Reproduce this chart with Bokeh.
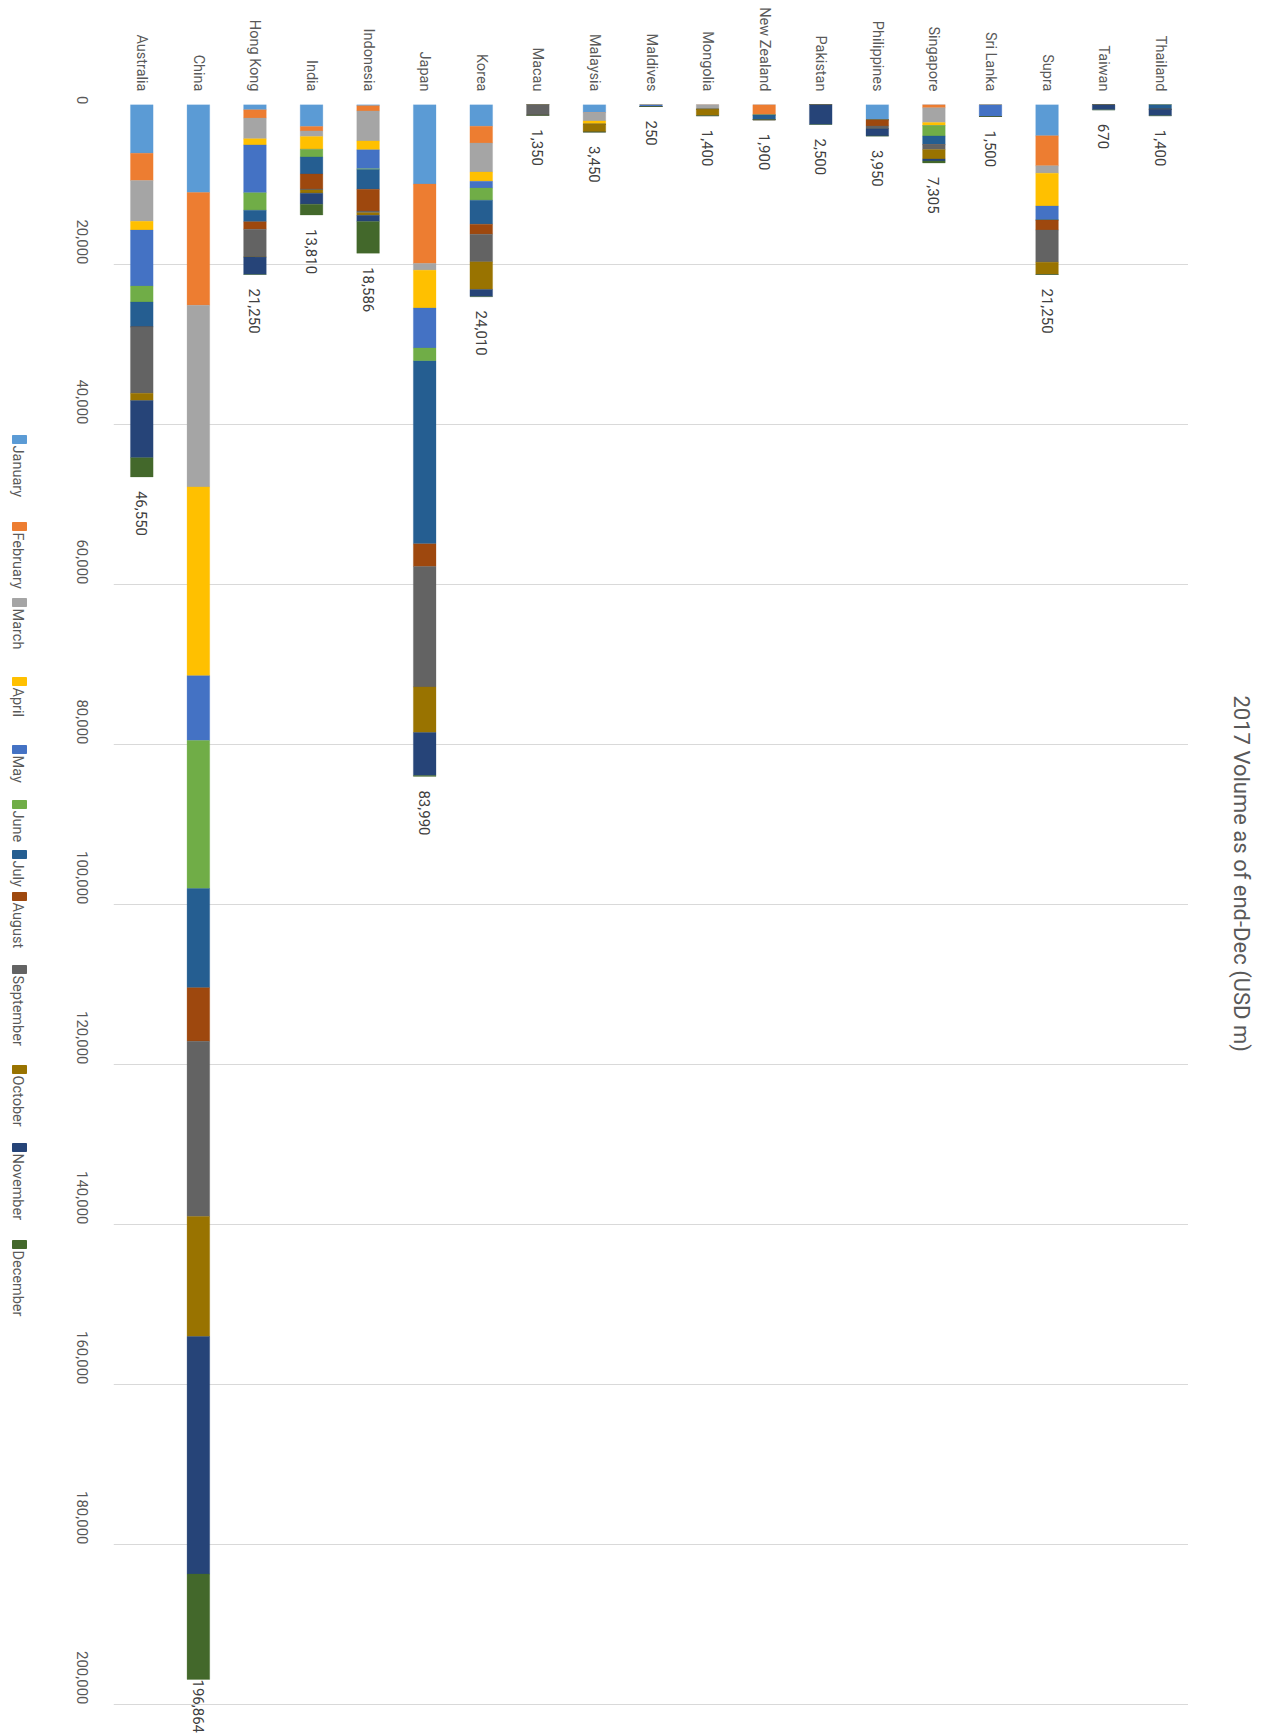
import math

from bokeh.core.properties import value
from bokeh.embed import file_html
from bokeh.layouts import row
from bokeh.models import (ColumnDataSource, FixedTicker, NumeralTickFormatter,
                          Range1d)
from bokeh.plotting import figure
from bokeh.resources import INLINE

# ---------------------------------------------------------------- data
countries = ["Australia", "China", "Hong Kong", "India", "Indonesia", "Japan",
             "Korea", "Macau", "Malaysia", "Maldives", "Mongolia",
             "New Zealand", "Pakistan", "Philippines", "Singapore",
             "Sri Lanka", "Supra", "Taiwan", "Thailand"]

months = ["January", "February", "March", "April", "May", "June", "July",
          "August", "September", "October", "November", "December"]

# monthly volume, USD m, one value per country (same order as countries)
january   = [6100, 11000,  670, 2750,  150,  9950, 2720,    0, 1000,   0,   0,    0,    0, 1900,    0,    0, 3920,   0,   0]
february  = [3400, 14100, 1030,  550,  650,  9910, 2100,    0,    0,   0,   0, 1300,    0,    0,  420,    0, 3750,   0,   0]
march     = [5100, 22700, 2590,  710, 3750,   850, 3620,    0, 1050,   0, 600,    0,    0,    0, 1845,    0,  920,   0,   0]
april     = [1100, 23600,  760, 1600, 1120,  4730, 1160,    0,  430,   0,   0,    0,    0,    0,  375,    0, 4100,   0,   0]
may       = [7000,  8100, 5980,    0, 2370,  5000,  850,    0,    0, 250,   0,    0,    0,    0,    0, 1500, 1750,   0,   0]
june      = [2000, 18500, 2190,  940,  100,  1610, 1520,    0,    0,   0,   0,    0,    0,    0, 1290,    0,    0,   0,   0]
july      = [3100, 12400, 1430, 2130, 2460, 22870, 2990,    0,    0,   0,   0,  600,    0,    0, 1080,    0,    0,   0, 600]
august    = [   0,  6700,  940, 1870, 2720,  2830, 1250,    0,    0,   0,   0,    0,    0,  780,    0,    0, 1250,   0,   0]
september = [8300, 21900, 3480,  130,  220, 15050, 3460, 1350,    0,   0,   0,    0,    0,  330,  625,    0, 4020,   0,   0]
october   = [ 900, 15000,    0,  400,  310,  5700, 3450,    0,  970,   0, 800,    0,    0,    0, 1170,    0, 1540,   0,   0]
november  = [7150, 29700, 2180, 1380,  760,  5380,  890,    0,    0,   0,   0,    0, 2500,  940,  250,    0,    0, 670, 800]
december  = [2400, 13164,    0, 1350, 3976,   110,    0,    0,    0,   0,   0,    0,    0,    0,  250,    0,    0,   0,   0]

series = [january, february, march, april, may, june, july, august,
          september, october, november, december]

value_ticks = list(range(0, 200001, 20000))
value_title = "2017 Volume as of end-Dec (USD m)"

# ---------------------------------------------------------------- style
FONT = "Roboto"
GREY_TEXT = "#595959"
colors = ["#5B9BD5", "#ED7D31", "#A5A5A5", "#FFC000", "#4472C4", "#70AD47",
          "#255E91", "#9E480E", "#636363", "#997300", "#264478", "#43682B"]

W, H = 1275, 1734
LEG_W = 40                   # legend strip on the left
TITLE_W = 87                 # value-title strip on the right
PX_PER_UNIT = 0.008          # vertical pixels per USD m
TOP = 104
LABEL_GAP = 14               # px between a stack's end and its total label
LABEL_LEN = 55               # room kept for the longest total label, px

totals = [sum(s[i] for s in series) for i in range(len(countries))]

# keep every total label inside the canvas: shrink the gap near the bottom
label_offset = [max(0, min(LABEL_GAP, H - (TOP + t * PX_PER_UNIT) - LABEL_LEN))
                for t in totals]

data = {"country": countries, "total": totals,
        "label": [f"{t:,}" for t in totals], "label_offset": label_offset}
for m, s in zip(months, series):
    data[m] = s
source = ColumnDataSource(data)


def strip(width):
    """A blank side figure; its frame lines up with the chart frame
    (canvas rows TOP..H), so its y data units equal canvas pixels."""
    f = figure(width=width, height=H, x_range=Range1d(0, width),
               y_range=Range1d(H, TOP), x_axis_type=None, y_axis_type=None,
               output_backend="svg", toolbar_location=None,
               min_border=0, min_border_left=0, min_border_right=0,
               min_border_top=TOP, min_border_bottom=0)
    f.outline_line_color = None
    f.grid.visible = False
    return f


# ---------------------------------------------------------------- main chart
y_max = (H - TOP) / PX_PER_UNIT
p = figure(width=W - LEG_W - TITLE_W, height=H, x_range=countries,
           y_range=Range1d(y_max, 0), x_axis_location="above",
           output_backend="svg", toolbar_location=None,
           min_border_left=113 - LEG_W, min_border_right=0,
           min_border_top=TOP, min_border_bottom=0)
p.outline_line_color = None
p.background_fill_color = "white"
p.border_fill_color = "white"

p.vbar_stack(months, x="country", width=0.4, source=source,
             fill_color=colors, line_color=colors, line_width=0.3)

p.text(x="country", y="total", text="label", source=source,
       angle=-math.pi / 2, text_align="left", text_baseline="middle",
       y_offset="label_offset", text_font=value(FONT), text_font_size="15px",
       text_color="#404040")

# category axis (top)
xa = p.xaxis[0]
xa.major_label_orientation = -math.pi / 2
xa.major_label_standoff = 13
xa.major_tick_line_color = None
xa.major_tick_out = 0
xa.axis_line_color = None
xa.major_label_text_font = FONT
xa.major_label_text_font_size = "14.5px"
xa.major_label_text_color = GREY_TEXT
p.xgrid.grid_line_color = None

# value axis (left)
ya = p.yaxis[0]
ya.ticker = FixedTicker(ticks=value_ticks)
ya.formatter = NumeralTickFormatter(format="0,0")
ya.major_label_orientation = -math.pi / 2
ya.major_label_standoff = 25
ya.major_tick_line_color = None
ya.minor_tick_line_color = None
ya.axis_line_color = None
ya.major_label_text_font = FONT
ya.major_label_text_font_size = "15px"
ya.major_label_text_color = GREY_TEXT
p.ygrid.ticker = FixedTicker(ticks=value_ticks)
p.ygrid.grid_line_color = "#D9D9D9"
p.ygrid.grid_line_width = 1

# ---------------------------------------------------------------- value title strip
tt = strip(TITLE_W)
tt.text(x=[53], y=[695], text=[value_title], angle=-math.pi / 2,
        text_align="left", text_baseline="middle", text_font=value(FONT),
        text_font_size="22px", text_color=GREY_TEXT)

# ---------------------------------------------------------------- legend strip
legend_key_top = [435, 522, 598, 677, 745, 800, 850, 892, 965, 1065, 1143, 1240]

lg = strip(LEG_W)
leg_src = ColumnDataSource({
    "name": months,
    "color": colors,
    "key_y": [t + 4 for t in legend_key_top],
    "text_y": [t + 10 for t in legend_key_top],
})
lg.rect(x=19, y="key_y", width=14, height=8, source=leg_src,
        fill_color="color", line_color="color")
lg.text(x=17, y="text_y", text="name", source=leg_src, angle=-math.pi / 2,
        text_align="left", text_baseline="middle", text_font=value(FONT),
        text_font_size="14.5px", text_color=GREY_TEXT)

layout = row(lg, p, tt, spacing=0)
open("out.html", "w").write(file_html(layout, INLINE))
